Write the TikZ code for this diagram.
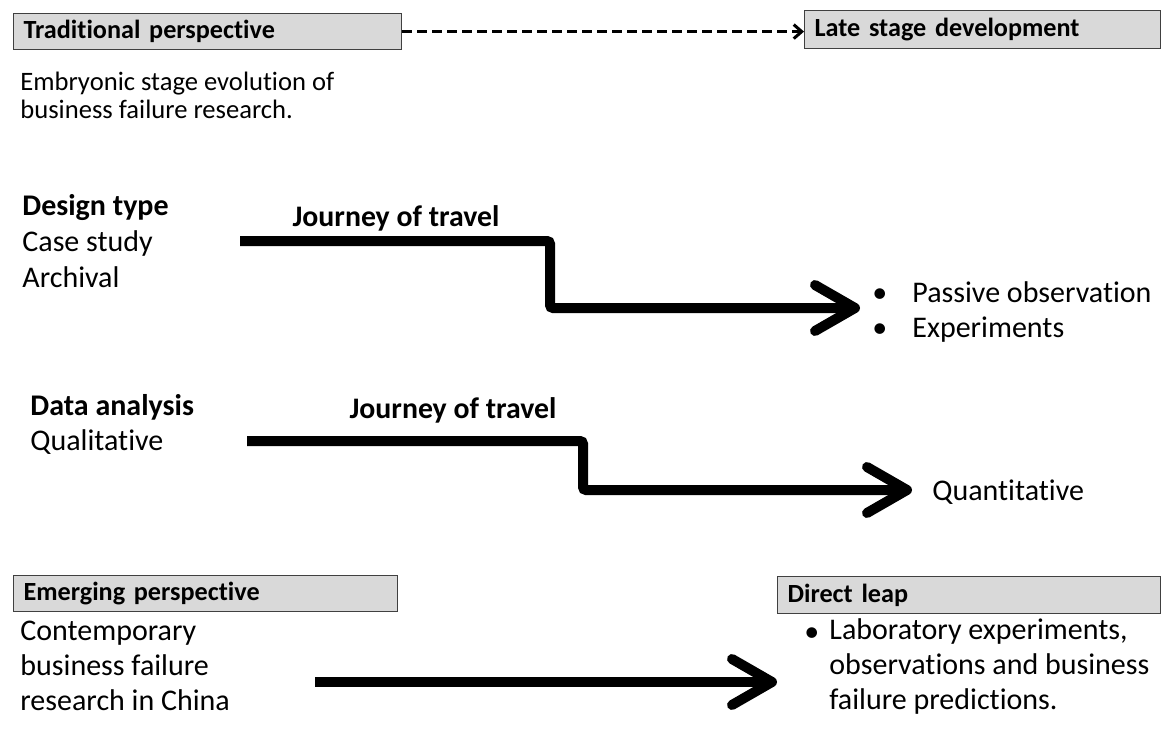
\documentclass[tikz,border=0pt]{standalone}
\usepackage{fontspec}
\setmainfont{Carlito}[Ligatures=NoCommon]
\usetikzlibrary{arrows.meta}

\tikzset{
  stagebox/.style={rectangle, draw=black!75, fill=black!15, line width=0.6pt,
    anchor=north west, inner xsep=5pt, inner ysep=0pt, align=left,
    font=\bfseries\fontsize{13.1}{14}\selectfont},
  bodytext/.style={anchor=base west, inner sep=0pt, align=left,
    font=\fontsize{15}{17.5}\selectfont},
  journey/.style={anchor=base, inner sep=0pt,
    font=\bfseries\fontsize{14.9}{17}\selectfont},
  thickarrow/.style={line width=5pt, rounded corners=1.5pt,
    -{Straight Barb[length=20pt,width=23pt,round]}},
  dashedarrow/.style={line width=1.5pt, dash pattern=on 5pt off 2.5pt,
    -{Straight Barb[length=4pt,width=7pt]}}
}

\begin{document}
\begin{tikzpicture}[x=0.5pt, y=-0.5pt]
    \useasboundingbox (0,0) rectangle (1163,733);

    % top row
    \node[stagebox, text width=184pt, minimum height=18pt] (trad) at (13,13) {Traditional perspective};
    \node[stagebox, text width=168pt, minimum height=19pt] (late) at (804,10) {Late stage development};
    \draw[dashedarrow] (trad.east) -- (trad.east -| late.west);

    \node[bodytext, font=\fontsize{13.3}{14}\selectfont] (embryo) at (20,119)
        {Embryonic stage evolution of\\business failure research.};

    % design type
    \node[bodytext, font=\fontsize{15}{18}\selectfont] (design) at (22,287)
        {\textbf{Design type}\\Case study\\Archival};
    \node[journey] (journeyA) at (396,227) {Journey of travel};
    \coordinate (startA) at (240,241);
    \coordinate (endA) at (860,308);
    \draw[thickarrow] (startA) -- (550,241) -- (550,308) -- (endA);
    \node[bodytext] (passive) at (872,337)
        {\makebox[20pt][l]{\textbullet}Passive observation\\\makebox[20pt][l]{\textbullet}Experiments};

    % data analysis
    \node[bodytext] (data) at (30,450)
        {\textbf{Data analysis}\\Qualitative};
    \node[journey] (journeyB) at (453,418) {Journey of travel};
    \coordinate (startB) at (247,441);
    \coordinate (endB) at (912,490);
    \draw[thickarrow] (startB) -- (583,441) -- (583,490) -- (endB);
    \node[bodytext] (quant) at (932,500) {Quantitative};

    % bottom row
    \node[stagebox, text width=182pt, minimum height=18pt] (emerging) at (13,575) {Emerging perspective};
    \node[stagebox, text width=181.5pt, minimum height=18.5pt] (leap) at (777,576) {Direct leap};

    \node[bodytext] (contemp) at (20,710)
        {Contemporary\\business failure\\research in China};
    \coordinate (startC) at (315,682);
    \draw[thickarrow] (startC) -- ++(462,0) coordinate (endC);
    \node[bodytext] (leapdot) at (804,641) {\textbullet};
    \node[bodytext] (leaplist) at (829,709)
        {Laboratory experiments,\\observations and business\\failure predictions.};
\end{tikzpicture}
\end{document}
